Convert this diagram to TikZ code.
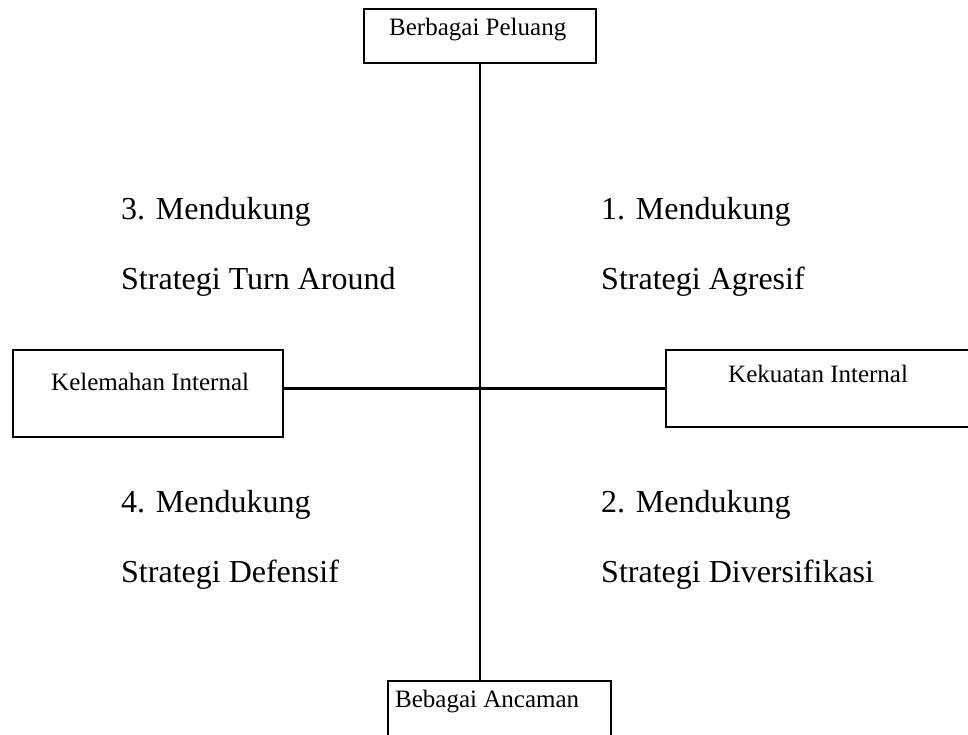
\documentclass[tikz,border=0pt]{standalone}
\usepackage{fontspec}
\setmainfont{Liberation Serif}
\begin{document}
\begin{tikzpicture}[x=1pt,y=-1pt,
  box/.style={draw=black,line width=2.2pt,inner sep=0pt,fill=white},
  conn/.style={draw=black,line width=2.2pt},
  small/.style={anchor=base west,inner sep=0pt,font=\fontsize{25}{29}\selectfont},
  big/.style={anchor=base west,inner sep=0pt,font=\fontsize{32}{37}\selectfont}]
\useasboundingbox (0,0) rectangle (968,735);
\clip (0,0) rectangle (968,735);
% boxes
\node[box,minimum width=232pt,minimum height=53.7pt] (top) at (480,35.85) {};
\node[box,minimum width=270pt,minimum height=87pt] (left) at (147.7,393.5) {};
\node[box,minimum width=340pt,minimum height=77pt] (right) at (836,388.5) {};
\node[box,minimum width=223pt,minimum height=80pt] (bot) at (499.5,721) {};
% connectors
\draw[conn] (top.south) -- (top.south |- bot.north);
\draw[conn] (left.east |- right.west) -- (right.west);
% box labels
\node[small] (tl) at (389,36) {Berbagai Peluang};
\node[small] (ll) at (51,390) {Kelemahan Internal};
\node[small] (rl) at (728,382) {Kekuatan Internal};
\node[small] (bl) at (395,707) {Bebagai Ancaman};
% quadrant labels
\node[big] (q3a) at (121,220) {3. Mendukung};
\node[big] (q3b) at (121,289) {Strategi Turn Around};
\node[big] (q1a) at (601,220) {1. Mendukung};
\node[big] (q1b) at (601,289) {Strategi Agresif};
\node[big] (q4a) at (121,512) {4. Mendukung};
\node[big] (q4b) at (121,582) {Strategi Defensif};
\node[big] (q2a) at (601,512) {2. Mendukung};
\node[big] (q2b) at (601,582) {Strategi Diversifikasi};
\end{tikzpicture}
\end{document}
